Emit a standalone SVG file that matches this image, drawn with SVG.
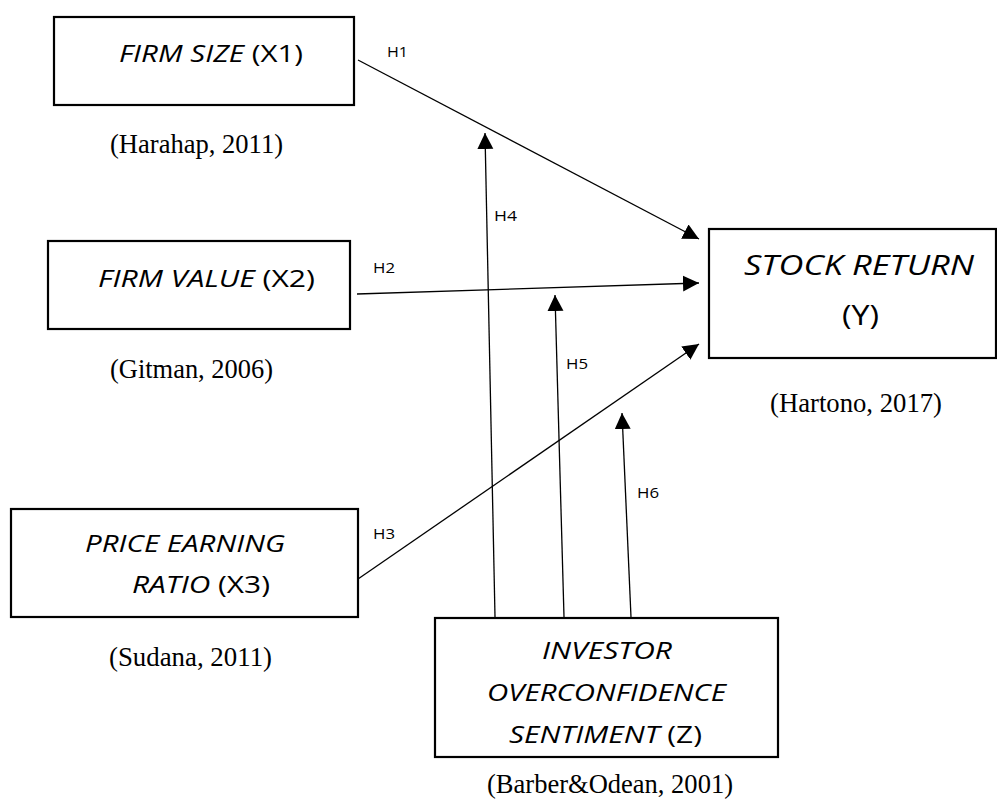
<svg xmlns="http://www.w3.org/2000/svg" width="997" height="799" viewBox="0 0 997 799">
<style>
.box{fill:#fff;stroke:#000;stroke-width:2.2}
.lbl{font-family:"Open Sans","Noto Sans",sans-serif;fill:#000}
.it{font-style:italic}
.ref{font-family:"Liberation Serif","Times New Roman",serif;font-size:26.5px;fill:#000}
.h{font-family:"Open Sans","Noto Sans",sans-serif;font-size:15px;fill:#000}
.con line{stroke:#000;stroke-width:1.3;fill:none}
</style>
<defs>
<marker id="arr" markerUnits="userSpaceOnUse" markerWidth="17" markerHeight="17" refX="16" refY="8" orient="auto">
<path d="M0,0 L16,8 L0,16 z" fill="#000"/>
</marker>
</defs>
<rect width="997" height="799" fill="#fff"/>
<g id="x1">
<rect class="box" x="54" y="17" width="300" height="88"/>
<text class="lbl" x="119" y="62" font-size="24" textLength="184" lengthAdjust="spacingAndGlyphs"><tspan class="it">FIRM SIZE</tspan> (X1)</text>
<text class="ref" x="110" y="153" textLength="173" lengthAdjust="spacingAndGlyphs">(Harahap, 2011)</text>
</g>
<g id="x2">
<rect class="box" x="48" y="241" width="302" height="88"/>
<text class="lbl" x="98" y="287" font-size="24" textLength="217" lengthAdjust="spacingAndGlyphs"><tspan class="it">FIRM VALUE</tspan> (X2)</text>
<text class="ref" x="110" y="378" textLength="163" lengthAdjust="spacingAndGlyphs">(Gitman, 2006)</text>
</g>
<g id="x3">
<rect class="box" x="11" y="509" width="347" height="108"/>
<text class="lbl it" x="85" y="552" font-size="24" textLength="200" lengthAdjust="spacingAndGlyphs">PRICE EARNING</text>
<text class="lbl" x="132" y="593" font-size="24" textLength="138" lengthAdjust="spacingAndGlyphs"><tspan class="it">RATIO</tspan> (X3)</text>
<text class="ref" x="109" y="666" textLength="163" lengthAdjust="spacingAndGlyphs">(Sudana, 2011)</text>
</g>
<g id="y">
<rect class="box" x="709" y="229" width="287" height="129"/>
<text class="lbl it" x="744" y="275" font-size="28" textLength="230" lengthAdjust="spacingAndGlyphs">STOCK RETURN</text>
<text class="lbl" x="842" y="325" font-size="28" textLength="37" lengthAdjust="spacingAndGlyphs">(Y)</text>
<text class="ref" x="770" y="412" textLength="172" lengthAdjust="spacingAndGlyphs">(Hartono, 2017)</text>
</g>
<g id="z">
<rect class="box" x="435" y="618" width="343" height="139"/>
<text class="lbl it" x="542" y="659" font-size="23.5" textLength="130" lengthAdjust="spacingAndGlyphs">INVESTOR</text>
<text class="lbl it" x="487" y="701" font-size="23.5" textLength="239" lengthAdjust="spacingAndGlyphs">OVERCONFIDENCE</text>
<text class="lbl" x="509" y="743" font-size="23.5" textLength="193" lengthAdjust="spacingAndGlyphs"><tspan class="it">SENTIMENT</tspan> (Z)</text>
<text class="ref" x="487" y="793" textLength="246" lengthAdjust="spacingAndGlyphs">(Barber&amp;Odean, 2001)</text>
</g>
<g id="connectors" class="con">
<line x1="358" y1="60" x2="699" y2="239" marker-end="url(#arr)"/>
<line x1="357" y1="294" x2="699" y2="283" marker-end="url(#arr)"/>
<line x1="358" y1="579" x2="699" y2="344" marker-end="url(#arr)"/>
<line x1="495" y1="617" x2="485" y2="133" marker-end="url(#arr)"/>
<line x1="564" y1="617" x2="555" y2="295" marker-end="url(#arr)"/>
<line x1="631" y1="617" x2="622" y2="413" marker-end="url(#arr)"/>
</g>
<g id="labels">
<text class="h" x="387" y="57" textLength="21" lengthAdjust="spacingAndGlyphs">H1</text>
<text class="h" x="373" y="273" textLength="22" lengthAdjust="spacingAndGlyphs">H2</text>
<text class="h" x="373" y="539" textLength="22" lengthAdjust="spacingAndGlyphs">H3</text>
<text class="h" x="494" y="221" textLength="23" lengthAdjust="spacingAndGlyphs">H4</text>
<text class="h" x="566" y="369" textLength="22" lengthAdjust="spacingAndGlyphs">H5</text>
<text class="h" x="637" y="498" textLength="22" lengthAdjust="spacingAndGlyphs">H6</text>
</g>
</svg>
